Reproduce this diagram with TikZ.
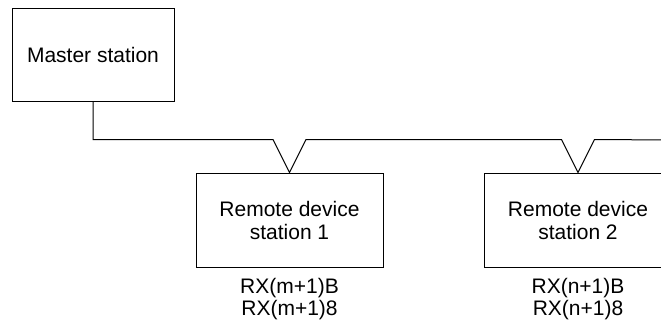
\documentclass[tikz,border=0pt]{standalone}
\usepackage{fontspec}
\setmainfont{Liberation Sans}
\usepackage{tikz}
\usetikzlibrary{positioning}
\tikzstyle{station} = [rectangle, 
minimum width=187pt, 
minimum height=94pt,
text centered, 
align=center,
draw=black, 
line width=1pt,
font=\fontsize{21}{23}\selectfont]
\tikzstyle{master} = [station, 
minimum width=162pt, 
minimum height=93pt]
\tikzstyle{regs} = [align=center, 
inner sep=0pt, 
font=\fontsize{21}{22}\selectfont]
\tikzstyle{bus} = [line width=1pt]

\begin{document}
\begin{tikzpicture}[x=1pt,y=-1pt]
\useasboundingbox (0,0) rectangle (661,322);
\clip (0,0) rectangle (661,322);

\node (master) [master] at (93,54.5) {Master station};
\node (rds1) [station] at (289.5,220) {Remote device\\station 1};
\node (rds2) [station] at (578,220) {Remote device\\station 2};
\node (regs1) [regs, below=11pt of rds1] {RX(m+1)B\\RX(m+1)8};
\node (regs2) [regs, below=11pt of rds2] {RX(n+1)B\\RX(n+1)8};

% taps on the bus line
\coordinate (tap1l) at ([shift={(-16.5,-33)}]rds1.north);
\coordinate (tap1r) at ([shift={(16.5,-33)}]rds1.north);
\coordinate (tap2l) at ([shift={(-16.5,-33)}]rds2.north);
\coordinate (tap2r) at ([shift={(16.5,-33)}]rds2.north);
\coordinate (busend) at (670,140);

\draw [bus] (master.south) |- (tap1l) -- (rds1.north) -- (tap1r) -- (tap2l) -- (rds2.north) -- (tap2r) -- (busend);

\end{tikzpicture}
\end{document}
